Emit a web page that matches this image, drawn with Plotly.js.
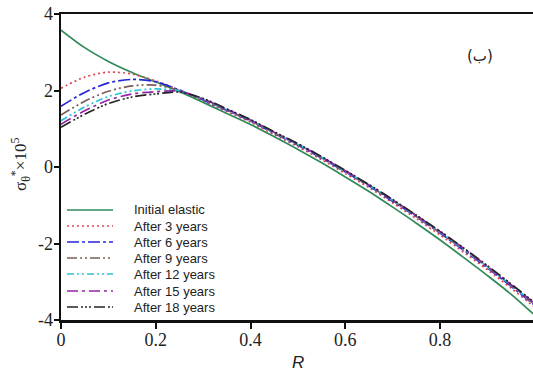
<!DOCTYPE html>
<html>
<head>
<meta charset="utf-8">
<script src="https://cdn.plot.ly/plotly-3.0.1.min.js"></script>
<style>html,body{margin:0;padding:0;background:#fff;}#chart{width:533px;height:376px;}</style>
</head>
<body>
<div id="chart"></div>
<script>
const R = [0,0.05,0.1,0.15,0.2,0.25,0.3,0.35,0.4,0.45,0.5,0.55,0.6,0.65,0.7,0.75,0.8,0.85,0.9,0.95,1.0];
const seriesNames = ["Initial elastic","After 3 years","After 6 years","After 9 years","After 12 years","After 15 years","After 18 years"];
const initialElastic = [3.58,3.12,2.76,2.47,2.22,1.97,1.69,1.40,1.11,0.79,0.46,0.11,-0.26,-0.64,-1.05,-1.47,-1.91,-2.37,-2.84,-3.33,-3.88];
const after3  = [2.06,2.35,2.48,2.43,2.25,2.01,1.73,1.45,1.17,0.84,0.53,0.19,-0.17,-0.54,-0.94,-1.35,-1.78,-2.23,-2.69,-3.17,-3.67];
const after6  = [1.59,1.95,2.2,2.29,2.23,2.01,1.75,1.48,1.2,0.88,0.57,0.23,-0.13,-0.5,-0.9,-1.3,-1.73,-2.18,-2.64,-3.12,-3.62];
const after9  = [1.36,1.72,1.98,2.12,2.14,2.0,1.76,1.49,1.21,0.89,0.58,0.24,-0.12,-0.49,-0.88,-1.29,-1.72,-2.16,-2.62,-3.1,-3.6];
const after12 = [1.21,1.57,1.84,1.99,2.04,1.99,1.77,1.5,1.22,0.9,0.59,0.25,-0.11,-0.48,-0.87,-1.28,-1.7,-2.15,-2.61,-3.09,-3.58];
const after15 = [1.12,1.47,1.75,1.91,1.97,1.98,1.78,1.51,1.23,0.91,0.6,0.26,-0.1,-0.47,-0.86,-1.27,-1.69,-2.13,-2.6,-3.08,-3.57];
const after18 = [1.04,1.38,1.66,1.83,1.91,1.96,1.79,1.52,1.24,0.92,0.61,0.27,-0.09,-0.46,-0.85,-1.26,-1.68,-2.12,-2.58,-3.06,-3.55];
const xTicks = [0,0.2,0.4,0.6,0.8];
const xTickText = ["0","0.2","0.4","0.6","0.8"];
const yTicks = [-4,-2,0,2,4];
const yTickText = ["-4","-2","0","2","4"];

const values = [initialElastic, after3, after6, after9, after12, after15, after18];
const colors = ["#2f8a5a","#e0474c","#2626d9","#7a5e58","#27c3d6","#9424a8","#262626"];
const dashes = ["solid","2px,3px","12px,3px,3px,3px","10px,3px,2px,3px,2px,3px","7px,3px,2px,3px,2px,3px","11px,4px,3px,4px","11px,3px,2px,2px,2px,2px,2px,3px"];

const traces = values.map((v,i)=>({
  x: R, y: v, type: "scatter", mode: "lines", name: seriesNames[i], showlegend: false,
  line: {color: colors[i], width: 1.7, dash: dashes[i], shape: "spline", smoothing: 0.8}
}));

const SERIF = "'Liberation Serif', 'Times New Roman', Times, serif";
const SANS = "'Liberation Sans', Arial, Helvetica, sans-serif";

// Manual legend layout (pixel positions in plot area)
const W = 472, H = 306, L = 61, B = 320;
const px = p => (p - L) / W;
const py = p => (B - p) / H;
const legendRows = [210, 226, 242, 258, 274, 291, 307];
const shapes = seriesNames.map((n,i)=>({
  type: "line", xref: "paper", yref: "paper",
  x0: px(67), x1: px(113), y0: py(legendRows[i]), y1: py(legendRows[i]),
  line: {color: colors[i], width: 1.7, dash: dashes[i]}
}));
const legendTexts = seriesNames.map((n,i)=>({
  text: n, xref: "paper", yref: "paper", x: px(132), y: py(legendRows[i]),
  xanchor: "left", yanchor: "middle", showarrow: false,
  font: {family: SANS, size: 13, color: "#222"}
}));

const layout = {
  width: 533, height: 376,
  margin: {l: 61, r: 0, t: 14, b: 56},
  paper_bgcolor: "#fff", plot_bgcolor: "#fff",
  font: {family: SERIF, size: 18, color: "#222"},
  showlegend: false,
  xaxis: {range: [0, 0.996], tickvals: xTicks, ticktext: xTickText, showgrid: false, zeroline: false,
          showline: true, linecolor: "#111", linewidth: 2.5, mirror: true,
          ticks: "outside", ticklen: 6, tickwidth: 2, tickcolor: "#111", ticklabelstandoff: -4,
          tickfont: {family: SERIF, size: 18, color: "#222"}},
  yaxis: {range: [-4, 4], tickvals: yTicks, ticktext: yTickText, showgrid: false, zeroline: false,
          showline: true, linecolor: "#111", linewidth: 2.5,
          ticks: "outside", ticklen: 5, tickwidth: 2, tickcolor: "#111", ticklabelstandoff: -3,
          tickfont: {family: SERIF, size: 18, color: "#222"}},
  shapes: shapes,
  annotations: [
    {text: "σ<sub>θ</sub><sup>*</sup>×10<sup>5</sup>", xref: "paper", yref: "paper", x: px(20), y: py(165),
     xanchor: "center", yanchor: "middle", textangle: -90, showarrow: false,
     font: {family: SERIF, size: 17, color: "#222"}},
    {text: "<i>R</i>", xref: "paper", yref: "paper", x: px(298), y: py(362), xanchor: "center", yanchor: "middle",
     showarrow: false, font: {family: SANS, size: 17, color: "#222"}},
    {text: "(ب)", xref: "paper", yref: "paper", x: px(480), y: py(56), xanchor: "center", yanchor: "middle",
     showarrow: false, font: {family: "'DejaVu Sans', sans-serif", size: 15, color: "#222"}}
  ].concat(legendTexts)
};

Plotly.newPlot("chart", traces, layout, {displayModeBar: false, staticPlot: true});
</script>
</body>
</html>
